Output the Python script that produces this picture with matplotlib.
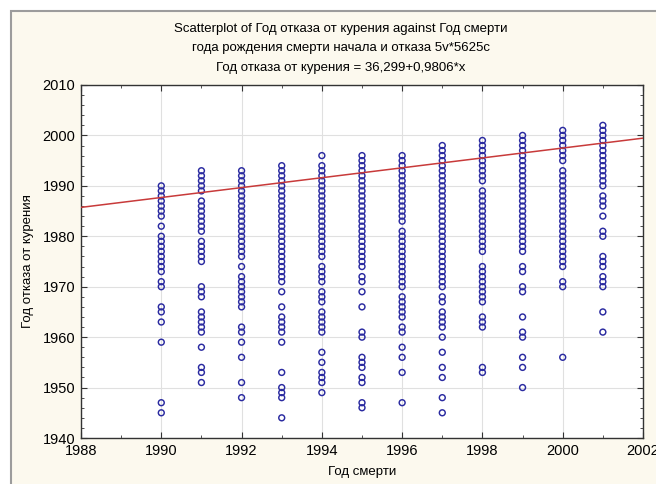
import matplotlib
matplotlib.use("Agg")
import matplotlib.pyplot as plt
from matplotlib.patches import Rectangle
from matplotlib.ticker import MultipleLocator
import numpy as np

plt.rcParams['font.family'] = ['Liberation Sans', 'DejaVu Sans']

# year of death (x) and the quit-smoking years recorded for each
death_years = [1990, 1991, 1992, 1993, 1994, 1995, 1996, 1997, 1998, 1999, 2000, 2001]

quit_1990 = [1990, 1989, 1988, 1987, 1986, 1985, 1984, 1982, 1980, 1979, 1978, 1977,
             1976, 1975, 1974, 1973, 1971, 1970, 1966, 1965, 1963, 1959, 1947, 1945]
quit_1991 = [1993, 1992, 1991, 1990, 1989, 1987, 1986, 1985, 1984, 1983, 1982, 1981,
             1979, 1978, 1977, 1976, 1975, 1970, 1969, 1968, 1965, 1964, 1963, 1962,
             1961, 1958, 1954, 1953, 1951]
quit_1992 = [1993, 1992, 1991, 1990, 1989, 1988, 1987, 1986, 1985, 1984, 1983, 1982,
             1981, 1980, 1979, 1978, 1977, 1976, 1974, 1972, 1971, 1970, 1969, 1968,
             1967, 1966, 1962, 1961, 1959, 1956, 1951, 1948]
quit_1993 = [1994, 1993, 1992, 1991, 1990, 1989, 1988, 1987, 1986, 1985, 1984, 1983,
             1982, 1981, 1980, 1979, 1978, 1977, 1976, 1975, 1974, 1973, 1972, 1971,
             1969, 1966, 1964, 1963, 1962, 1961, 1959, 1953, 1950, 1949, 1948, 1944]
quit_1994 = [1996, 1994, 1993, 1992, 1991, 1990, 1989, 1988, 1987, 1986, 1985, 1984,
             1983, 1982, 1981, 1980, 1979, 1978, 1977, 1976, 1974, 1973, 1972, 1971,
             1969, 1968, 1967, 1965, 1964, 1963, 1962, 1961, 1957, 1955, 1953, 1952,
             1951, 1949]
quit_1995 = [1996, 1995, 1994, 1993, 1992, 1991, 1990, 1989, 1988, 1987, 1986, 1985,
             1984, 1983, 1982, 1981, 1980, 1979, 1978, 1977, 1976, 1975, 1974, 1972,
             1971, 1969, 1966, 1961, 1960, 1956, 1955, 1954, 1952, 1951, 1947, 1946]
quit_1996 = [1996, 1995, 1994, 1993, 1992, 1991, 1990, 1989, 1988, 1987, 1986, 1985,
             1984, 1983, 1981, 1980, 1979, 1978, 1977, 1976, 1975, 1974, 1973, 1972,
             1971, 1970, 1968, 1967, 1966, 1965, 1964, 1962, 1961, 1958, 1956, 1953,
             1947]
quit_1997 = [1998, 1997, 1996, 1995, 1994, 1993, 1992, 1991, 1990, 1989, 1988, 1987,
             1986, 1985, 1984, 1983, 1982, 1981, 1980, 1979, 1978, 1977, 1976, 1975,
             1974, 1973, 1972, 1971, 1970, 1968, 1967, 1965, 1964, 1963, 1962, 1960,
             1957, 1954, 1952, 1948, 1945]
quit_1998 = [1999, 1998, 1997, 1996, 1995, 1994, 1993, 1992, 1991, 1989, 1988, 1987,
             1986, 1985, 1984, 1983, 1982, 1981, 1980, 1979, 1978, 1977, 1974, 1973,
             1972, 1971, 1970, 1969, 1968, 1967, 1964, 1963, 1962, 1954, 1953]
quit_1999 = [2000, 1999, 1998, 1997, 1996, 1995, 1994, 1993, 1992, 1991, 1990, 1989,
             1988, 1987, 1986, 1985, 1984, 1983, 1982, 1981, 1980, 1979, 1978, 1977,
             1974, 1973, 1970, 1969, 1964, 1961, 1960, 1956, 1954, 1950]
quit_2000 = [2001, 2000, 1999, 1998, 1997, 1996, 1995, 1993, 1992, 1991, 1990, 1989,
             1988, 1987, 1986, 1985, 1984, 1983, 1982, 1981, 1980, 1979, 1978, 1977,
             1976, 1975, 1974, 1971, 1970, 1956]
quit_2001 = [2002, 2001, 2000, 1999, 1998, 1997, 1996, 1995, 1994, 1993, 1992, 1991,
             1990, 1988, 1987, 1986, 1984, 1981, 1980, 1976, 1975, 1974, 1972, 1971,
             1970, 1965, 1961]

quit_years = [quit_1990, quit_1991, quit_1992, quit_1993, quit_1994, quit_1995,
              quit_1996, quit_1997, quit_1998, quit_1999, quit_2000, quit_2001]

# fitted line coefficients
intercept = 36.299
slope = 0.9806

xs = np.concatenate([[d] * len(q) for d, q in zip(death_years, quit_years)])
ys = np.concatenate(quit_years)

fig = plt.figure(figsize=(6.56, 4.84), dpi=100, facecolor='white')
# cream panel with grey frame on the left/top
fig.patches.append(Rectangle((11 / 656, -0.1), 1.2, 1.1 - 11 / 484,
                             transform=fig.transFigure, facecolor='#fcf9ee',
                             edgecolor='#9c9c9c', linewidth=1.5, zorder=-10))

ax = fig.add_axes([81 / 656, 1 - 438 / 484, (643 - 81) / 656, (438 - 85) / 484])
ax.set_facecolor('white')

ax.set_xlim(1988, 2002)
ax.set_ylim(1940, 2010)

ax.grid(True, color='#e0e0e0', linewidth=0.8, zorder=0)
ax.set_axisbelow(True)

lx = np.array([1988, 2002])
ax.plot(lx, intercept + slope * lx, color='#c83a3a', linewidth=1.1, zorder=3)
ax.scatter(xs, ys, s=18, facecolors='none', edgecolors='#2a2aa0', linewidths=1.05, zorder=2)

ax.xaxis.set_major_locator(MultipleLocator(2))
ax.xaxis.set_minor_locator(MultipleLocator(1))
ax.yaxis.set_major_locator(MultipleLocator(10))
ax.yaxis.set_minor_locator(MultipleLocator(2))
ax.tick_params(which='both', direction='in', top=True, right=True, color='#333333')
ax.tick_params(which='major', length=4, labelsize=10.5, pad=4)
ax.tick_params(which='minor', length=2)
for s in ax.spines.values():
    s.set_color('#333333')
    s.set_linewidth(1.0)

ax.set_xlabel('Год смерти', fontsize=9.5, labelpad=6)
ax.set_ylabel('Год отказа от курения', fontsize=9.5, labelpad=6)

fig.text(341 / 656, 1 - 29 / 484, 'Scatterplot of Год отказа от курения against Год смерти',
         ha='center', va='center', fontsize=9.5)
fig.text(341 / 656, 1 - 48 / 484, 'года рождения смерти начала и отказа 5v*5625c',
         ha='center', va='center', fontsize=9.5)
fig.text(341 / 656, 1 - 68 / 484, 'Год отказа от курения = 36,299+0,9806*x',
         ha='center', va='center', fontsize=9.5)

fig.savefig('out.png', dpi=100, facecolor=fig.get_facecolor())
